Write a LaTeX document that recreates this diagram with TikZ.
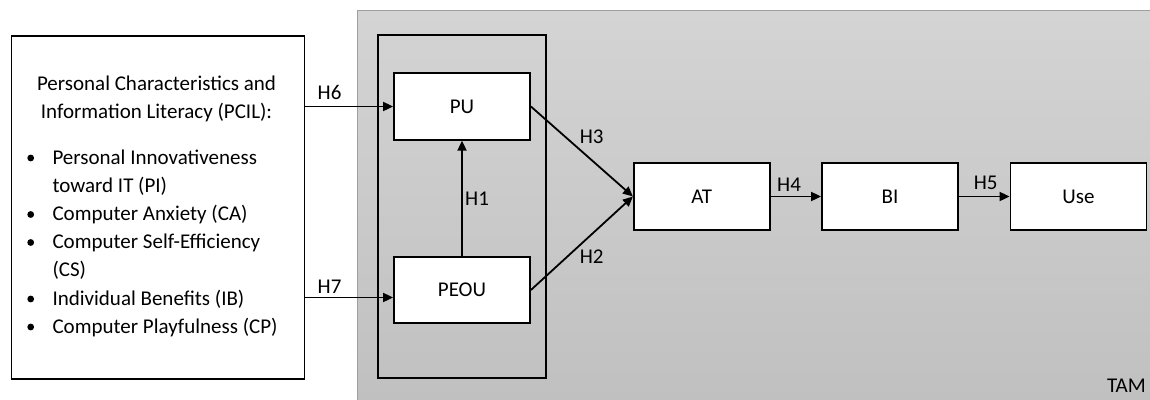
\documentclass[tikz,border=0pt]{standalone}
\usepackage{fontspec}
\setmainfont{Carlito}
\usetikzlibrary{arrows.meta,calc}
\definecolor{bgtop}{HTML}{D4D4D4}
\definecolor{bgbot}{HTML}{C0C0C0}
\begin{document}
\begin{tikzpicture}[x=1pt,y=-1pt,
  box/.style={draw=black,line width=1.8pt,fill=white,minimum width=136pt,minimum height=66.5pt,inner sep=0pt,font=\fontsize{21}{25}\selectfont},
  arr/.style={line width=1.8pt,-{Triangle[length=10pt,width=9pt]}},
  lbl/.style={font=\fontsize{21}{25}\selectfont,inner sep=0pt}]
\useasboundingbox (0,0) rectangle (1150,399);
% TAM background
\shade[top color=bgtop,bottom color=bgbot,draw=gray!75,line width=0.8pt] (357,10) rectangle (1152,401);
\node[lbl,anchor=base east] (tam) at (1146,392) {TAM};
% inner group box
\draw[line width=1.8pt] (377.7,35) rectangle (546.2,378);
% left box
\node[draw=black,line width=1.8pt,fill=white,minimum width=293pt,minimum height=343pt,anchor=north west,inner sep=0pt] (pcil) at (10.5,35) {};
\node[lbl,anchor=base] (t1) at (156.5,90.5) {Personal Characteristics and};
\node[lbl,anchor=base] (t2) at (156.5,118.5) {Information Literacy (PCIL):};
\foreach \y/\t [count=\i] in {164/Personal Innovativeness,192/toward IT (PI),220.5/Computer Anxiety (CA),248.5/Computer Self-Efficiency,276.5/(CS),305/Individual Benefits (IB),333/Computer Playfulness (CP)}{
  \node[lbl,anchor=base west] (l\i) at (52.3,\y) {\t};
}
\foreach \y in {164,220.5,248.5,305,333}{
  \fill (30.7,\y-6) circle (3.4pt);
}
% nodes
\node[box] (pu) at (462,106.5) {PU};
\node[box] (peou) at (462,290) {PEOU};
\node[box] (at) at (701.8,196.5) {AT};
\node[box] (bi) at (890,196.5) {BI};
\node[box] (use) at (1078.5,196.5) {Use};
% arrows
\coordinate (e7) at ([yshift=-7.5pt]peou.west);
\coordinate (s6) at (pcil.east |- pu.west);
\coordinate (s7) at (pcil.east |- e7);
\draw[arr] (s6) -- (pu.west);
\draw[arr] (s7) -- (e7);
\draw[arr] (peou.north) -- (pu.south);
\draw[arr] (pu.east) -- (at.west);
\draw[arr] (peou.east) -- (at.west);
\draw[arr] (at.east) -- (bi.west);
\draw[arr] (bi.east) -- (use.west);
% labels
\node[lbl,anchor=base west] (h6) at (317.5,99) {H6};
\node[lbl,anchor=base west] (h7) at (317.5,293) {H7};
\node[lbl,anchor=base west] (h1) at (465,205) {H1};
\node[lbl,anchor=base west] (h3) at (579.6,143) {H3};
\node[lbl,anchor=base west] (h2) at (579.6,263) {H2};
\node[lbl,anchor=base west] (h4) at (777,191) {H4};
\node[lbl,anchor=base west] (h5) at (973.6,189) {H5};
\end{tikzpicture}
\end{document}
